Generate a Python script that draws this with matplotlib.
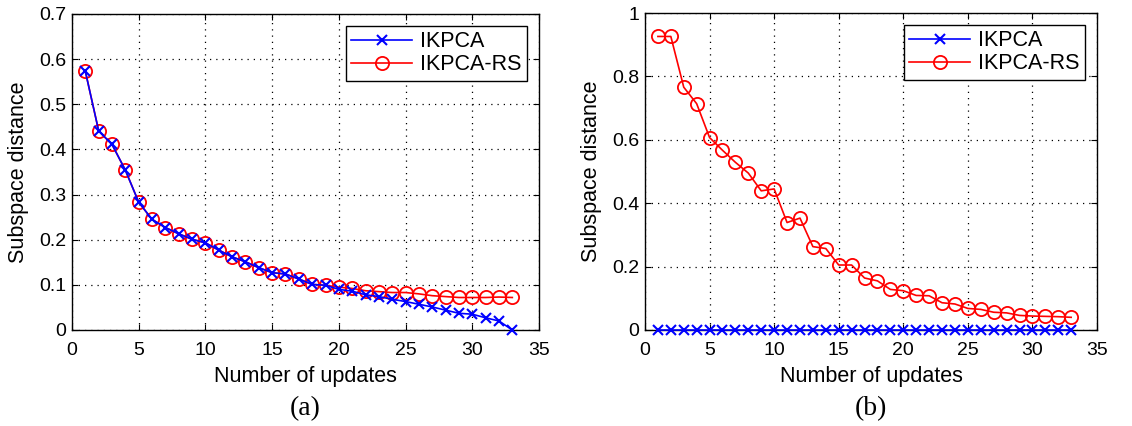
import matplotlib
matplotlib.use("Agg")
import matplotlib.pyplot as plt
import numpy as np

updates = list(range(1, 34))

a_ikpca = [0.573, 0.441, 0.411, 0.354, 0.283, 0.245, 0.227, 0.213, 0.201, 0.193,
           0.177, 0.162, 0.151, 0.138, 0.127, 0.124, 0.113, 0.101, 0.099, 0.090,
           0.086, 0.078, 0.074, 0.068, 0.063, 0.057, 0.051, 0.044, 0.037, 0.035,
           0.027, 0.020, 0.0]
a_ikpca_rs = [0.573, 0.441, 0.411, 0.354, 0.283, 0.245, 0.227, 0.213, 0.201, 0.193,
              0.177, 0.162, 0.151, 0.138, 0.127, 0.124, 0.113, 0.101, 0.099, 0.095,
              0.092, 0.087, 0.085, 0.083, 0.083, 0.080, 0.076, 0.074, 0.072, 0.072,
              0.072, 0.073, 0.072]

b_ikpca = [0.0] * 33
b_ikpca_rs = [0.926, 0.926, 0.766, 0.714, 0.607, 0.567, 0.529, 0.495, 0.439, 0.445,
              0.339, 0.353, 0.263, 0.257, 0.205, 0.205, 0.164, 0.155, 0.128, 0.124,
              0.109, 0.108, 0.086, 0.082, 0.068, 0.065, 0.056, 0.054, 0.046, 0.044,
              0.043, 0.042, 0.040]

a_yticks = [0, 0.1, 0.2, 0.3, 0.4, 0.5, 0.6, 0.7]
a_ylabels = ["0", "0.1", "0.2", "0.3", "0.4", "0.5", "0.6", "0.7"]
b_yticks = [0, 0.2, 0.4, 0.6, 0.8, 1.0]
b_ylabels = ["0", "0.2", "0.4", "0.6", "0.8", "1"]
xticks = [0, 5, 10, 15, 20, 25, 30, 35]
captions = ["(a)", "(b)"]

plt.rcParams['font.family'] = ['Liberation Sans', 'DejaVu Sans']

fig = plt.figure(figsize=(11.32, 4.26), dpi=100)
W, H = 1132, 426
boxes = [(72, 14, 539, 330), (645, 13, 1097, 330)]
panels = [(a_ikpca, a_ikpca_rs, a_yticks, a_ylabels, 0.7),
          (b_ikpca, b_ikpca_rs, b_yticks, b_ylabels, 1.0)]

for i, ((x0, y0, x1, y1), (blue, red, yt, yl, ymax)) in enumerate(zip(boxes, panels)):
    ax = fig.add_axes([x0 / W, 1 - y1 / H, (x1 - x0) / W, (y1 - y0) / H])
    l2, = ax.plot(updates, red, color='red', marker='o', markersize=9.5,
                  markerfacecolor='none', markeredgewidth=1.3, linewidth=1.2,
                  label='IKPCA-RS', clip_on=False, zorder=3)
    l1, = ax.plot(updates, blue, color='blue', marker='x', markersize=7,
                  markeredgewidth=1.5, linewidth=1.2, label='IKPCA',
                  clip_on=False, zorder=4)
    ax.set_xlim(0, 35)
    ax.set_ylim(0, ymax)
    ax.set_xticks(xticks)
    ax.set_xticklabels([str(t) for t in xticks])
    ax.set_yticks(yt)
    ax.set_yticklabels(yl)
    ax.tick_params(direction='in', top=True, right=True, labelsize=14,
                   length=4, width=0.8)
    ax.tick_params(axis='x', pad=8.5)
    ax.tick_params(axis='y', pad=4)
    ax.grid(True, linestyle=(0, (1, 4)), color='black', linewidth=0.9)
    for s in ax.spines.values():
        s.set_linewidth(1.0)
    ax.set_xlabel('Number of updates', fontsize=15.5, labelpad=5)
    ax.set_ylabel('Subspace distance', fontsize=15.5, labelpad=7)
    leg = ax.legend([l1, l2], ['IKPCA', 'IKPCA-RS'], fontsize=15.5,
                    loc='upper right', fancybox=False, edgecolor='black',
                    framealpha=1, borderpad=0.25, labelspacing=0.1,
                    handlelength=2.8, handletextpad=0.4, borderaxespad=0.55)
    leg.get_frame().set_linewidth(1.0)
    fig.text(((x0 + x1) / 2) / W, 1 - 409 / H, captions[i], ha='center',
             va='center', fontsize=20, family='Liberation Serif')

fig.savefig('out.png', dpi=100)
